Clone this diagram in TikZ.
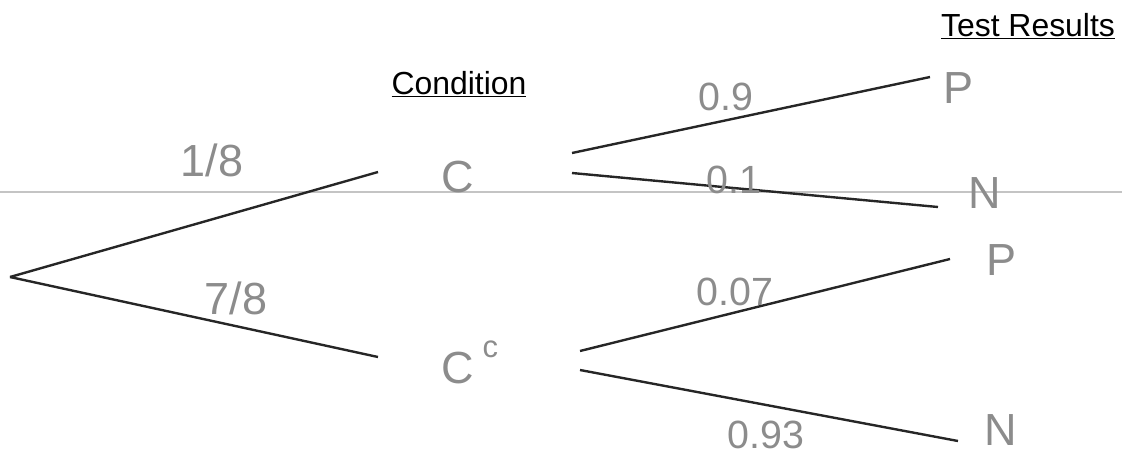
\documentclass[tikz,border=0pt]{standalone}
\usepackage{fontspec}
\setmainfont{Liberation Sans}
\usepackage{xcolor}
\usetikzlibrary{positioning}

\definecolor{pencil}{HTML}{8C8C8C}
\definecolor{ink}{HTML}{262626}
\definecolor{scanline}{HTML}{C4C4C4}

\begin{document}
\begin{tikzpicture}[
  x=0.025cm, y=-0.025cm,
  branch/.style={draw=ink, line width=1.7pt},
  head/.style={font=\fontsize{22.7}{26}\selectfont, inner sep=0pt},
  hand/.style={text=pencil, font=\fontsize{32}{36}\selectfont, inner sep=0pt},
  prob/.style={text=pencil, font=\fontsize{28}{32}\selectfont, inner sep=0pt}
]
\useasboundingbox (0,0) rectangle (1122,455);
% scan line across the page
\draw[scanline, line width=0.8pt] (0,192) -- (1122,192);
% headings
\node[head] (cond) at (459,84) {\underline{Condition}};
\node[head] (test) at (1028,26) {\underline{Test Results}};
% outcomes
\node[hand] (c) at (458,177) {C};
\node[hand] (cc) at (470,362) {C\hspace{6pt}\raisebox{1.1ex}{\fontsize{22}{24}\selectfont c}};
\node[hand] (p1) at (958,88) {P};
\node[hand] (n1) at (985,193) {N};
\node[hand] (p2) at (1001,260) {P};
\node[hand] (n2) at (1001,430) {N};
% branch ends
\coordinate (root) at (10,277);
\coordinate (c-in) at (378,172);
\coordinate (cc-in) at (378,357);
\coordinate (c-up) at (572,153);
\coordinate (c-dn) at (572,173);
\coordinate (cc-up) at (580,351);
\coordinate (cc-dn) at (580,370);
\coordinate (p1-in) at (930,77);
\coordinate (n1-in) at (938,207);
\coordinate (p2-in) at (950,259);
\coordinate (n2-in) at (958,441);
% branches
\draw[branch] (root) -- (c-in);
\draw[branch] (root) -- (cc-in);
\draw[branch] (c-up) -- (p1-in);
\draw[branch] (c-dn) -- (n1-in);
\draw[branch] (cc-up) -- (p2-in);
\draw[branch] (cc-dn) -- (n2-in);
% probabilities
\node[hand] (pc) at (212,160) {1/8};
\node[hand] (pcc) at (236,298) {7/8};
\node[prob] (pp1) at (726,97) {0.9};
\node[prob] (pn1) at (734,180) {0.1};
\node[prob] (pp2) at (735,292) {0.07};
\node[prob] (pn2) at (766,435) {0.93};
\end{tikzpicture}
\end{document}
